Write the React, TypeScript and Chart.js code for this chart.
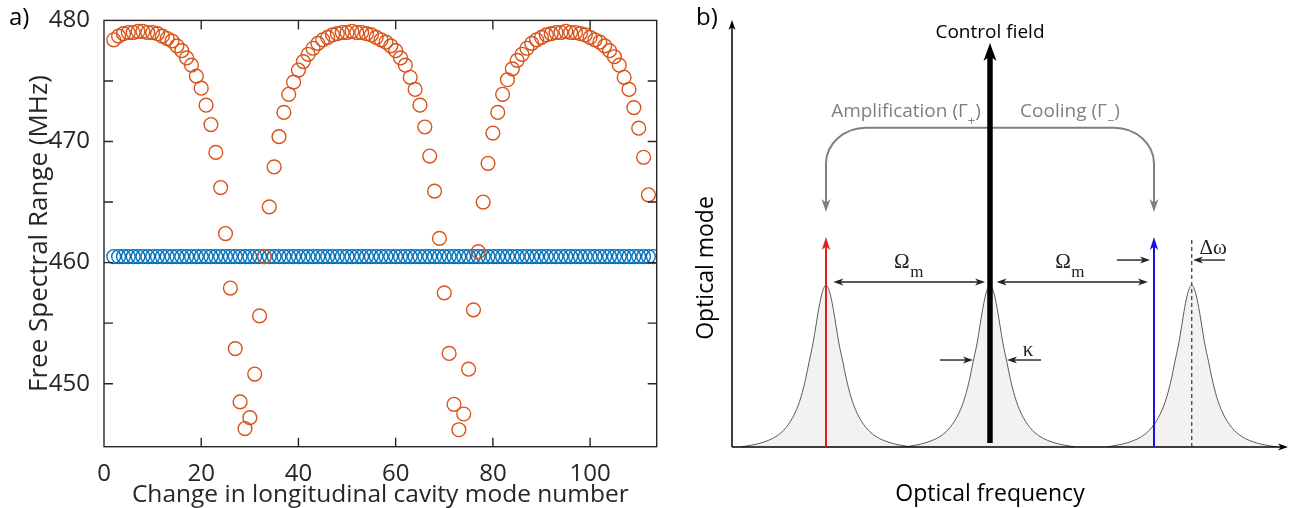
import React, { useEffect, useRef } from "react";
import { Chart, registerables } from "chart.js";

Chart.register(...registerables);

const SANS = "'Open Sans', 'Noto Sans', sans-serif";
const SERIF = "'Liberation Serif', 'DejaVu Serif', serif";
const AXIS_COLOR = "#262626";

// ---------------- Panel a data ----------------
// change in longitudinal cavity mode number (x)
const modeNumbers: number[] = Array.from({ length: 112 }, (_, i) => i + 2);
// free spectral range of the tuned (orange) cavity, modes 2..112 (MHz)
const fsrTuned: number[] = [
  478.4, 478.7, 478.9, 479.0, 479.0, 479.1, 479.1, 479.0, 479.0, 478.9,
  478.7, 478.5, 478.3, 477.9, 477.5, 476.9, 476.3, 475.4, 474.4, 473.0,
  471.4, 469.1, 466.2, 462.4, 457.9, 452.9, 448.5, 446.3, 447.2, 450.8,
  455.6, 460.5, 464.6, 467.9, 470.4, 472.4, 473.9, 474.9, 475.9, 476.6,
  477.2, 477.7, 478.1, 478.4, 478.6, 478.8, 478.9, 479.0, 479.0, 479.1,
  479.0, 479.0, 478.9, 478.8, 478.6, 478.4, 478.2, 477.9, 477.5, 476.9,
  476.3, 475.3, 474.3, 473.0, 471.2, 468.8, 465.9, 462.0, 457.5, 452.5,
  448.3, 446.2, 447.5, 451.2, 456.1, 460.9, 465.0, 468.2, 470.7, 472.4,
  473.9, 475.1, 476.0, 476.7, 477.2, 477.7, 478.1, 478.4, 478.6, 478.8,
  478.9, 479.0, 479.0, 479.1, 479.0, 479.0, 478.9, 478.8, 478.6, 478.4,
  478.2, 477.9, 477.5, 477.0, 476.3, 475.3, 474.3, 472.8, 471.1, 468.7,
  465.6,
];
// free spectral range of the reference (blue) cavity, modes 2..113 (MHz)
const fsrReference: number[] = [
  460.5, 460.5, 460.5, 460.5, 460.5, 460.5, 460.5, 460.5, 460.5, 460.5, 460.5, 460.5, 460.5, 460.5,
  460.5, 460.5, 460.5, 460.5, 460.5, 460.5, 460.5, 460.5, 460.5, 460.5, 460.5, 460.5, 460.5, 460.5,
  460.5, 460.5, 460.5, 460.5, 460.5, 460.5, 460.5, 460.5, 460.5, 460.5, 460.5, 460.5, 460.5, 460.5,
  460.5, 460.5, 460.5, 460.5, 460.5, 460.5, 460.5, 460.5, 460.5, 460.5, 460.5, 460.5, 460.5, 460.5,
  460.5, 460.5, 460.5, 460.5, 460.5, 460.5, 460.5, 460.5, 460.5, 460.5, 460.5, 460.5, 460.5, 460.5,
  460.5, 460.5, 460.5, 460.5, 460.5, 460.5, 460.5, 460.5, 460.5, 460.5, 460.5, 460.5, 460.5, 460.5,
  460.5, 460.5, 460.5, 460.5, 460.5, 460.5, 460.5, 460.5, 460.5, 460.5, 460.5, 460.5, 460.5, 460.5,
  460.5, 460.5, 460.5, 460.5, 460.5, 460.5, 460.5, 460.5, 460.5, 460.5, 460.5, 460.5, 460.5, 460.5,
];
const xAxisLimits = [0, 113.7];
const yAxisLimits = [444.8, 480];
const xTickStep = 20;
const yTickStep = 5;
const yLabelStep = 10;

// ---------------- Panel b data (frequency in units of Omega_m from control) ----------------
const opticalModes: number[] = [-1, 0, 1.23];
const lineShapeOffsets: number[] = [0, 0.024, 0.043, 0.061, 0.079, 0.104, 0.122, 0.152, 0.189, 0.244, 0.305, 0.396, 0.518];
const lineShapeHeights: number[] = [1.0, 0.95, 0.86, 0.75, 0.64, 0.52, 0.43, 0.31, 0.21, 0.12, 0.065, 0.025, 0.0];
const controlTone = 0;
const controlHeight = 2.494;
const sidebandTones: number[] = [-1, 1];
const sidebandHeight = 1.296;
const bLimitsX = [-1.573, 1.817];
const bLimitsY = [0, 2.636];

// ---------- drawing helpers ----------
function head(ctx: CanvasRenderingContext2D, x: number, y: number, ang: number, len: number, half: number, color: string) {
  ctx.save();
  ctx.translate(x, y);
  ctx.rotate(ang);
  ctx.beginPath();
  ctx.moveTo(0, 0);
  ctx.lineTo(-len, -half);
  ctx.lineTo(-len * 0.72, 0);
  ctx.lineTo(-len, half);
  ctx.closePath();
  ctx.fillStyle = color;
  ctx.fill();
  ctx.restore();
}

function arrow(ctx: CanvasRenderingContext2D, x1: number, y1: number, x2: number, y2: number, color: string, width: number, len: number, half: number, both = false) {
  const ang = Math.atan2(y2 - y1, x2 - x1);
  const c = Math.cos(ang), s = Math.sin(ang);
  const back = len * 0.7;
  ctx.save();
  ctx.strokeStyle = color;
  ctx.lineWidth = width;
  ctx.beginPath();
  ctx.moveTo(both ? x1 + c * back : x1, both ? y1 + s * back : y1);
  ctx.lineTo(x2 - c * back, y2 - s * back);
  ctx.stroke();
  ctx.restore();
  head(ctx, x2, y2, ang, len, half, color);
  if (both) head(ctx, x1, y1, ang + Math.PI, len, half, color);
}

type Part = { text: string; font: string; dy?: number };
function richText(ctx: CanvasRenderingContext2D, parts: Part[], cx: number, cy: number, color: string) {
  ctx.save();
  ctx.fillStyle = color;
  ctx.textBaseline = "middle";
  ctx.textAlign = "left";
  let total = 0;
  const widths = parts.map((p) => {
    ctx.font = p.font;
    const w = ctx.measureText(p.text).width;
    total += w;
    return w;
  });
  let x = cx - total / 2;
  parts.forEach((p, i) => {
    ctx.font = p.font;
    ctx.fillText(p.text, x, cy + (p.dy || 0));
    x += widths[i];
  });
  ctx.restore();
}

// ---------- panel a plugin: box, inward ticks, panel label ----------
const boxPlugin = {
  id: "boxTicks",
  afterDatasetsDraw(chart: any) {
    const { ctx, chartArea: ca, scales } = chart;
    const tl = 9;
    ctx.save();
    ctx.strokeStyle = AXIS_COLOR;
    ctx.lineWidth = 1.4;
    ctx.strokeRect(ca.left, ca.top, ca.right - ca.left, ca.bottom - ca.top);
    ctx.beginPath();
    scales.x.ticks.forEach((t: any) => {
      const p = scales.x.getPixelForValue(t.value);
      if (p < ca.left + 3 || p > ca.right - 3) return;
      ctx.moveTo(p, ca.bottom);
      ctx.lineTo(p, ca.bottom - tl);
      ctx.moveTo(p, ca.top);
      ctx.lineTo(p, ca.top + tl);
    });
    scales.y.ticks.forEach((t: any) => {
      const p = scales.y.getPixelForValue(t.value);
      if (p < ca.top + 3 || p > ca.bottom - 3) return;
      ctx.moveTo(ca.left, p);
      ctx.lineTo(ca.left + tl, p);
      ctx.moveTo(ca.right, p);
      ctx.lineTo(ca.right - tl, p);
    });
    ctx.stroke();
    ctx.fillStyle = "#000";
    ctx.font = `24px ${SANS}`;
    ctx.textBaseline = "middle";
    ctx.textAlign = "left";
    ctx.fillText("a)", 9, 18);
    ctx.restore();
  },
};

// ---------- panel b plugin: schematic annotations ----------
const schematicPlugin = {
  id: "schematic",
  beforeDatasetsDraw(chart: any) {
    const { ctx, scales } = chart;
    const px = (v: number) => scales.x.getPixelForValue(v);
    const py = (v: number) => scales.y.getPixelForValue(v);
    const gray = "#808080";
    const xl = px(sidebandTones[0]);
    const xr = px(sidebandTones[1]);
    const yTop = py(1.971);
    const yTip = py(1.45);
    const rx = 40, ry = 36;
    ctx.save();
    ctx.strokeStyle = gray;
    ctx.lineWidth = 2;
    ctx.beginPath();
    ctx.moveTo(xl, yTip - 9);
    ctx.lineTo(xl, yTop + ry);
    ctx.bezierCurveTo(xl, yTop + ry * 0.45, xl + rx * 0.45, yTop, xl + rx, yTop);
    ctx.lineTo(xr - rx, yTop);
    ctx.bezierCurveTo(xr - rx * 0.45, yTop, xr, yTop + ry * 0.45, xr, yTop + ry);
    ctx.lineTo(xr, yTip - 9);
    ctx.stroke();
    ctx.restore();
    head(ctx, xl, yTip, Math.PI / 2, 13, 4.5, gray);
    head(ctx, xr, yTip, Math.PI / 2, 13, 4.5, gray);
  },
  afterDatasetsDraw(chart: any) {
    const { ctx, scales, chartArea: ca } = chart;
    const px = (v: number) => scales.x.getPixelForValue(v);
    const py = (v: number) => scales.y.getPixelForValue(v);
    const ink = "#222";

    arrow(ctx, ca.left, ca.bottom, ca.left, ca.top, "#000", 1.5, 10, 3.5);
    arrow(ctx, ca.left, ca.bottom, ca.right, ca.bottom, "#000", 1.5, 10, 3.5);

    const xd = px(opticalModes[2]);
    ctx.save();
    ctx.strokeStyle = "#444";
    ctx.lineWidth = 1.3;
    ctx.setLineDash([4, 3]);
    ctx.beginPath();
    ctx.moveTo(xd, py(0));
    ctx.lineTo(xd, py(sidebandHeight));
    ctx.stroke();
    ctx.restore();

    arrow(ctx, px(sidebandTones[0]), py(0), px(sidebandTones[0]), py(sidebandHeight), "#e0201c", 2, 13, 4.2);
    arrow(ctx, px(sidebandTones[1]), py(0), px(sidebandTones[1]), py(sidebandHeight), "#2010e0", 2, 13, 4.2);

    arrow(ctx, px(controlTone), py(0.025), px(controlTone), py(controlHeight), "#000", 5.5, 18, 6.5);

    arrow(ctx, px(-0.955), py(1.019), px(-0.03), py(1.019), ink, 1.4, 10, 3.5, true);
    arrow(ctx, px(0.04), py(1.019), px(0.963), py(1.019), ink, 1.4, 10, 3.5, true);

    arrow(ctx, px(-0.305), py(0.537), px(-0.104), py(0.537), ink, 1.4, 10, 3.5);
    arrow(ctx, px(0.311), py(0.537), px(0.104), py(0.537), ink, 1.4, 10, 3.5);

    arrow(ctx, px(0.774), py(1.154), px(0.976), py(1.154), ink, 1.4, 10, 3.5);
    arrow(ctx, px(1.433), py(1.154), px(1.238), py(1.154), ink, 1.4, 10, 3.5);

    richText(ctx, [{ text: "Control field", font: `19px ${SANS}` }], px(0), py(2.556), "#000");
    richText(
      ctx,
      [
        { text: "Amplification (\u0393", font: `19px ${SANS}` },
        { text: "+", font: `13px ${SANS}`, dy: 9 },
        { text: ")", font: `19px ${SANS}` },
      ],
      px(-0.512), py(2.068), "#7f7f7f"
    );
    richText(
      ctx,
      [
        { text: "Cooling (\u0393", font: `19px ${SANS}` },
        { text: "\u2212", font: `13px ${SANS}`, dy: 9 },
        { text: ")", font: `19px ${SANS}` },
      ],
      px(0.488), py(2.068), "#7f7f7f"
    );
    richText(ctx, [{ text: "\u03a9", font: `21px ${SERIF}` }], px(-0.537), py(1.136), ink);
    richText(ctx, [{ text: "m", font: `17px ${SERIF}` }], px(-0.537) + 15, py(1.136) + 10, ink);
    richText(ctx, [{ text: "\u03a9", font: `21px ${SERIF}` }], px(0.445), py(1.136), ink);
    richText(ctx, [{ text: "m", font: `17px ${SERIF}` }], px(0.445) + 15, py(1.136) + 10, ink);
    richText(ctx, [{ text: "\u03ba", font: `21px ${SERIF}` }], px(0.232), py(0.593), ink);
    richText(ctx, [{ text: "\u0394\u03c9", font: `21px ${SERIF}` }], px(1.36), py(1.228), ink);
    richText(ctx, [{ text: "Optical frequency", font: `23px ${SANS}` }], px(0), py(-0.296), "#000");
    ctx.save();
    ctx.translate(px(-1.726), py(1.105));
    ctx.rotate(-Math.PI / 2);
    richText(ctx, [{ text: "Optical mode", font: `23px ${SANS}` }], 0, 0, "#000");
    ctx.restore();
    richText(ctx, [{ text: "b)", font: `24px ${SANS}` }], px(-1.726), 18, "#000");
  },
};

export default function App() {
  const refA = useRef<HTMLCanvasElement | null>(null);
  const refB = useRef<HTMLCanvasElement | null>(null);

  useEffect(() => {
    const tickFont = { family: SANS, size: 24 };
    const chartA = new Chart(refA.current as HTMLCanvasElement, {
      type: "scatter",
      data: {
        datasets: [
          {
            label: "tuned",
            data: fsrTuned.map((v, i) => ({ x: modeNumbers[i], y: v })),
            borderColor: "#D95319",
            backgroundColor: "rgba(0,0,0,0)",
            pointRadius: 6.9,
            pointHoverRadius: 6.9,
            pointBorderWidth: 1.4,
            order: 0,
          },
          {
            label: "reference",
            data: fsrReference.map((v, i) => ({ x: modeNumbers[i], y: v })),
            borderColor: "#0072BD",
            backgroundColor: "rgba(0,0,0,0)",
            pointRadius: 6.9,
            pointHoverRadius: 6.9,
            pointBorderWidth: 1.4,
            order: 1,
          },
        ],
      },
      options: {
        animation: false,
        responsive: false,
        maintainAspectRatio: false,
        events: [],
        layout: { padding: { left: 0, top: 17.3, right: 8.3, bottom: 0 } },
        plugins: { legend: { display: false }, tooltip: { enabled: false } },
        scales: {
          x: {
            type: "linear",
            min: xAxisLimits[0],
            max: xAxisLimits[1],
            grid: { display: false },
            border: { display: false },
            ticks: { stepSize: xTickStep, includeBounds: false, padding: 5, font: tickFont, color: AXIS_COLOR, maxRotation: 0 },
            title: {
              display: true,
              text: "Change in longitudinal cavity mode number",
              font: { family: SANS, size: 24.5 },
              color: AXIS_COLOR,
              padding: { top: 0, bottom: -2 },
            },
            afterFit: (s: any) => {
              s.height = 61.3;
            },
          },
          y: {
            type: "linear",
            min: yAxisLimits[0],
            max: yAxisLimits[1],
            grid: { display: false },
            border: { display: false },
            ticks: {
              stepSize: yTickStep,
              includeBounds: false,
              padding: 6,
              font: tickFont,
              color: AXIS_COLOR,
              callback: (v: any) => (Number(v) % yLabelStep === 0 ? String(v) : ""),
            },
            title: {
              display: true,
              text: "Free Spectral Range (MHz)",
              font: { family: SANS, size: 26 },
              color: AXIS_COLOR,
              padding: { top: 24, bottom: 0 },
            },
            afterFit: (s: any) => {
              s.width = 104;
            },
          },
        },
      } as any,
      plugins: [boxPlugin],
    });

    const shapeDatasets = opticalModes.map((c) => {
      const pts: { x: number; y: number }[] = [];
      for (let i = lineShapeOffsets.length - 1; i > 0; i--) pts.push({ x: c - lineShapeOffsets[i], y: lineShapeHeights[i] });
      for (let i = 0; i < lineShapeOffsets.length; i++) pts.push({ x: c + lineShapeOffsets[i], y: lineShapeHeights[i] });
      return {
        data: pts,
        showLine: true,
        borderColor: "#5a5a5a",
        borderWidth: 1,
        backgroundColor: "#f2f2f2",
        fill: "origin",
        pointRadius: 0,
        cubicInterpolationMode: "monotone",
      };
    });

    const chartB = new Chart(refB.current as HTMLCanvasElement, {
      type: "scatter",
      data: { datasets: shapeDatasets as any },
      options: {
        animation: false,
        responsive: false,
        maintainAspectRatio: false,
        events: [],
        layout: { padding: { left: 67, top: 20, right: 4, bottom: 61 } },
        plugins: { legend: { display: false }, tooltip: { enabled: false } },
        scales: {
          x: { type: "linear", min: bLimitsX[0], max: bLimitsX[1], display: false },
          y: { type: "linear", min: bLimitsY[0], max: bLimitsY[1], display: false },
        },
      } as any,
      plugins: [schematicPlugin],
    });

    return () => {
      chartA.destroy();
      chartB.destroy();
    };
  }, []);

  return (
    <div style={{ position: "fixed", left: 0, top: 0, width: 1292, height: 508, background: "#fff" }}>
      <canvas ref={refA} width={665} height={508} style={{ position: "absolute", left: 0, top: 0, width: 665, height: 508 }} />
      <canvas ref={refB} width={627} height={508} style={{ position: "absolute", left: 665, top: 0, width: 627, height: 508 }} />
    </div>
  );
}
